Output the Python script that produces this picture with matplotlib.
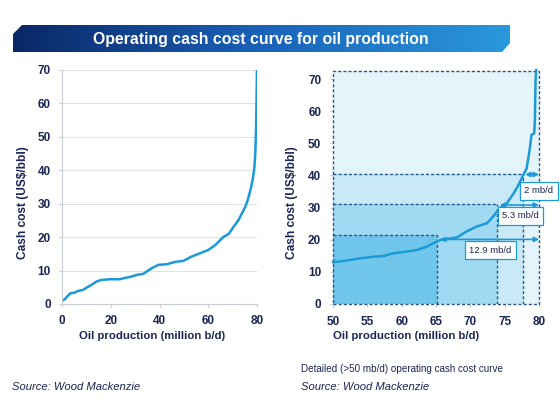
import matplotlib
matplotlib.use("Agg")
import matplotlib.pyplot as plt
import numpy as np
from matplotlib.patches import Polygon

plt.rcParams['font.family'] = ['Liberation Sans', 'DejaVu Sans']

NAVY = '#1b2556'
LINE = '#1a9ad6'
DASH = '#24578f'

# full operating cash cost curve (million b/d, US$/bbl)
full_prod = [0, 1.1, 2.7, 3.4, 5.2, 6.6, 8.6, 10.3, 12.1, 14.1, 16.2, 19.6, 23.7, 25.8,
             28.5, 30.6, 33.3, 36.8, 39.5, 43, 46.4, 49.8, 53.2, 56.7, 60.1, 62.8, 64.9,
             66.3, 68.3, 70.4, 72.4, 73.8, 75.2, 76.2, 77.3, 78.2, 78.9, 79.3, 79.6, 79.7, 80]
full_cost = [1.0, 1.4, 2.7, 3.2, 3.4, 3.9, 4.2, 5.0, 5.7, 6.7, 7.2, 7.4, 7.4, 7.8,
             8.2, 8.7, 9.0, 10.7, 11.7, 11.9, 12.6, 12.9, 14.2, 15.2, 16.2, 17.6, 19.1,
             20.1, 20.9, 23.1, 25.1, 27.1, 29.1, 31.1, 34.1, 37.1, 40.6, 45.1, 52.0, 56, 70]

# detailed curve (>50 mb/d)
det_prod = [50, 51.9, 53.9, 55.8, 57.3, 58.8, 60.7, 62.2, 63.6, 64.6, 65.6, 67.0, 68.0,
            69.4, 70.9, 72.4, 73.3, 74.3, 75.3, 76.3, 77.0, 77.7, 78.2, 78.4, 78.7, 78.9,
            79.3, 79.4, 79.5, 79.6]
det_cost = [13.0, 13.5, 14.2, 14.7, 14.9, 15.8, 16.3, 16.8, 17.8, 18.9, 19.9, 20.4, 20.7,
            22.5, 24.1, 25.1, 27.2, 29.8, 31.3, 34.4, 37.0, 40.1, 42.2, 44.8, 48.9, 52.6,
            53.1, 57.2, 69.7, 72.8]

# price thresholds with volume above them
band_x = [65.2, 73.9, 77.7]
band_y = [21.6, 31.1, 40.6]
band_fill = ['#70c6ea', '#a0d9f2', '#c9e9f7']
arrow_y = [20.1, 30.8, 40.3]
arrow_x0 = [65.6, 74.3, 78.0]
band_labels = ['12.9 mb/d', '5.3 mb/d', '2 mb/d']
label_x = [72.9, 77.3, 80.0]
label_y = [16.8, 27.4, 35.2]

fig = plt.figure(figsize=(5.6, 4.04), dpi=100)

# banner
bax = fig.add_axes([0, 0, 1, 1], zorder=0)
bax.set_xlim(0, 560)
bax.set_ylim(404, 0)
bax.axis('off')
grad = np.linspace(0, 1, 256).reshape(1, -1)
cmap = matplotlib.colors.LinearSegmentedColormap.from_list('b', ['#0a2766', '#1a62b8', '#2a98db'])
im = bax.imshow(grad, extent=[13, 510, 52, 25], aspect='auto', cmap=cmap)
poly = Polygon([(13, 34), (22, 25), (510, 25), (510, 43), (502, 52), (13, 52)],
               closed=True, facecolor='none', edgecolor='none')
bax.add_patch(poly)
im.set_clip_path(poly)
bax.text(261, 39.5, 'Operating cash cost curve for oil production', color='white',
         fontsize=11.4, fontweight='bold', ha='center', va='center')

# left chart
ax1 = fig.add_axes([62 / 560, 1 - 304 / 404, 195 / 560, 234 / 404], zorder=1)
ax1.plot(full_prod, full_cost, color=LINE, lw=1.8)
ax1.set_xlim(0, 80)
ax1.set_ylim(0, 70)
ax1.set_xticks(range(0, 81, 20))
ax1.set_yticks(range(0, 71, 10))
ax1.grid(axis='y', color='#e2e2e2', lw=0.8)
ax1.set_axisbelow(True)
for s in ['top', 'right']:
    ax1.spines[s].set_visible(False)
for s in ['left', 'bottom']:
    ax1.spines[s].set_color('#c5ccd6')
ax1.tick_params(length=2.5, color='#c5ccd6', labelsize=8.5, labelcolor=NAVY, pad=5.5)
for t in ax1.get_xticklabels() + ax1.get_yticklabels():
    t.set_fontweight('bold')

# right chart
ax2 = fig.add_axes([333 / 560, 1 - 304 / 404, 206 / 560, 233.3 / 404], zorder=1)
ax2.set_xlim(50, 80)
ax2.set_ylim(0, 72.6)
ax2.fill_between([50, 80], 0, 72.6, color='#e4f4fb', lw=0)
for bx, by, bc in zip(band_x[::-1], band_y[::-1], band_fill[::-1]):
    ax2.fill_between([50, bx], 0, by, color=bc, lw=0)
dash = (0, (2.2, 1.5))
for bx, by in zip(band_x, band_y):
    ax2.plot([50, bx], [by, by], color=DASH, lw=1, ls=dash)
    ax2.plot([bx, bx], [0, by], color=DASH, lw=1, ls=dash)
ax2.plot([50, 80, 80, 50, 50], [0, 0, 72.6, 72.6, 0], color=DASH, lw=1, ls=dash, clip_on=False)
ax2.plot(det_prod, det_cost, color=LINE, lw=1.8, clip_on=False)
for ay, ax0 in zip(arrow_y, arrow_x0):
    ax2.annotate('', xy=(80, ay), xytext=(ax0, ay),
                 arrowprops=dict(arrowstyle='<|-|>', color=LINE, lw=1.2,
                                 mutation_scale=7, shrinkA=0, shrinkB=0),
                 annotation_clip=False)
for lx, ly, lt in zip(label_x, label_y, band_labels):
    ax2.text(lx, ly, lt, fontsize=6.8, color=NAVY, ha='center', va='center', clip_on=False,
             bbox=dict(boxstyle='square,pad=0.45', fc='white', ec=LINE, lw=0.9))
ax2.set_xticks(range(50, 81, 5))
ax2.set_yticks(range(0, 71, 10))
for s in ax2.spines.values():
    s.set_visible(False)
ax2.tick_params(length=2.5, color='#c5ccd6', labelsize=8.5, labelcolor=NAVY, pad=6)
for t in ax2.get_xticklabels() + ax2.get_yticklabels():
    t.set_fontweight('bold')

# axis titles
fig.text(152 / 560, 1 - 336 / 404, 'Oil production (million b/d)', fontsize=8.2,
         fontweight='bold', color=NAVY, ha='center', va='center')
fig.text(406 / 560, 1 - 336 / 404, 'Oil production (million b/d)', fontsize=8.2,
         fontweight='bold', color=NAVY, ha='center', va='center')
fig.text(23 / 560, 1 - 203 / 404, 'Cash cost (US$/bbl)', fontsize=8.6, rotation=90,
         fontweight='bold', color=NAVY, ha='center', va='center')
fig.text(292 / 560, 1 - 203 / 404, 'Cash cost (US$/bbl)', fontsize=8.6, rotation=90,
         fontweight='bold', color=NAVY, ha='center', va='center')

fig.text(301 / 560, 1 - 369 / 404, 'Detailed (>50 mb/d) operating cash cost curve',
         fontsize=7.1, color=NAVY, ha='left', va='center')
fig.text(12 / 560, 1 - 387 / 404, 'Source: Wood Mackenzie', fontsize=8.1,
         style='italic', color=NAVY, ha='left', va='center')
fig.text(301 / 560, 1 - 387 / 404, 'Source: Wood Mackenzie', fontsize=8.1,
         style='italic', color=NAVY, ha='left', va='center')

fig.savefig('out.png', dpi=100)
